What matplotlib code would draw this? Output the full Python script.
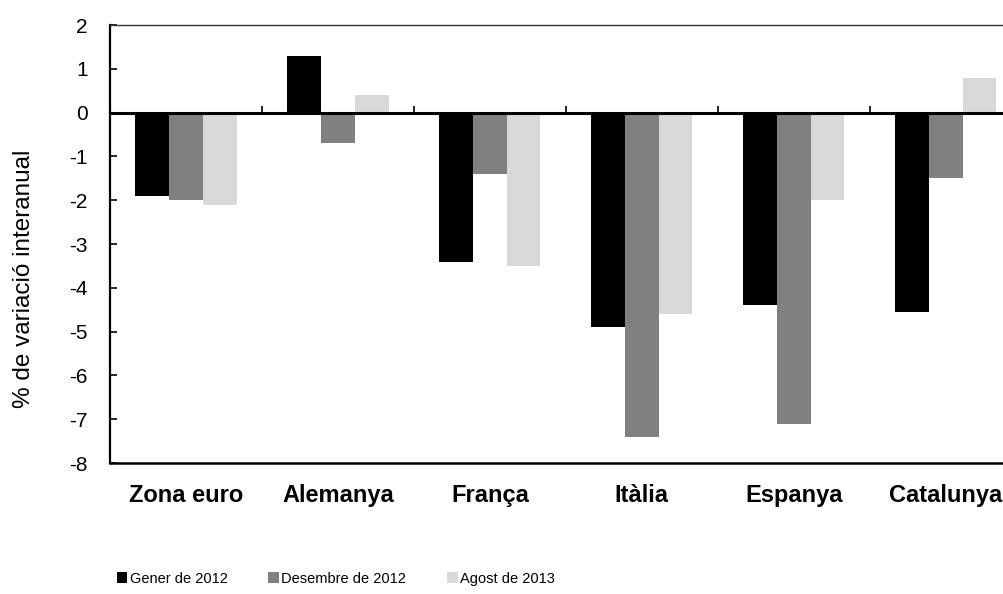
import numpy as np
import matplotlib.pyplot as plt

plt.rcParams['font.family'] = ['Liberation Sans', 'DejaVu Sans']
plt.rcParams['axes.unicode_minus'] = False

# Dades
categories = ['Zona euro', 'Alemanya', 'França', 'Itàlia', 'Espanya', 'Catalunya']
series_names = ['Gener de 2012', 'Desembre de 2012', 'Agost de 2013']
gener_2012 = [-1.9, 1.3, -3.4, -4.9, -4.4, -4.55]
desembre_2012 = [-2.0, -0.7, -1.4, -7.4, -7.1, -1.5]
agost_2013 = [-2.1, 0.4, -3.5, -4.6, -2.0, 0.8]
colors = ['#000000', '#808080', '#d9d9d9']

fig = plt.figure(figsize=(10.04, 5.94), dpi=100)
ax = fig.add_axes([0.1096, 0.2205, 0.908, 0.7374])

x = np.arange(len(categories))
w = 0.222
for i, (vals, c, name) in enumerate(zip([gener_2012, desembre_2012, agost_2013], colors, series_names)):
    ax.bar(x + (i - 1) * w, vals, width=w, color=c, label=name, zorder=2)

ax.set_xlim(-0.5, len(categories) - 0.5)
ax.set_ylim(-8, 2)
ax.set_yticks(range(-8, 3))
ax.tick_params(axis='y', direction='in', length=5, width=1.2, labelsize=15, pad=16)
ax.set_ylabel('% de variació interanual', fontsize=17.5)
ax.yaxis.set_label_coords(-0.082, 0.42)

# eix horitzontal a zero amb marques entre categories
ax.spines['bottom'].set_position(('data', 0))
ax.spines['bottom'].set_linewidth(2.2)
ax.spines['bottom'].set_zorder(3)
ax.set_xticks(x[:-1] + 0.5)
ax.tick_params(axis='x', direction='in', length=5, width=1.2, labelbottom=False)
ax.spines['left'].set_linewidth(1.6)
ax.spines['top'].set_linewidth(1.0)
ax.spines['top'].set_color('#333333')
ax.spines['right'].set_linewidth(1.0)
ax.axhline(-8, color='black', linewidth=1.8, clip_on=False, zorder=3)

# etiquetes de categories a la part inferior
sec = ax.secondary_xaxis(0)
sec.set_xticks(x)
sec.set_xticklabels(categories, fontsize=17, fontweight='bold')
sec.tick_params(length=0, pad=15)
sec.spines['bottom'].set_visible(False)

fig.legend(loc='lower left', bbox_to_anchor=(0.103, -0.008), ncol=3, frameon=False,
           fontsize=10.5, handlelength=0.75, handleheight=0.75, handletextpad=0.15,
           columnspacing=2.8)

fig.savefig('out.png', dpi=100)
